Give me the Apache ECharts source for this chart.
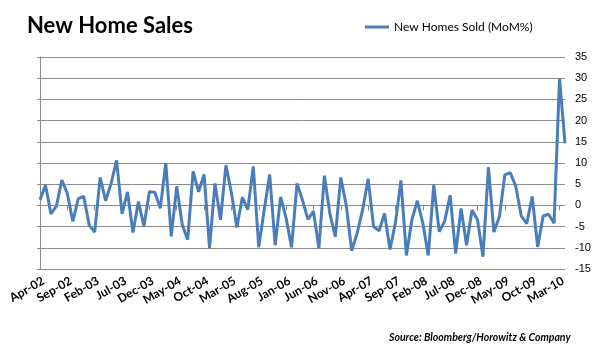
<!DOCTYPE html>
<html lang="en">
  <head>
    <meta charset="UTF-8" />
    <title>New Home Sales</title>
    <script src="https://cdnjs.cloudflare.com/ajax/libs/echarts/6.0.0/echarts.min.js"></script>
    <style>
      * {
        margin: 0;
        padding: 0;
      }
      body {
        background: #fff;
      }
      #chart {
        width: 603px;
        height: 352px;
      }
    </style>
  </head>
  <body>
    <div id="chart"></div>
    <script>
      // months, Apr-02 .. Apr-10
      const months = [
        "Apr-02", "May-02", "Jun-02", "Jul-02", "Aug-02", "Sep-02", "Oct-02", "Nov-02", "Dec-02",
        "Jan-03", "Feb-03", "Mar-03", "Apr-03", "May-03", "Jun-03", "Jul-03", "Aug-03", "Sep-03", "Oct-03", "Nov-03", "Dec-03",
        "Jan-04", "Feb-04", "Mar-04", "Apr-04", "May-04", "Jun-04", "Jul-04", "Aug-04", "Sep-04", "Oct-04", "Nov-04", "Dec-04",
        "Jan-05", "Feb-05", "Mar-05", "Apr-05", "May-05", "Jun-05", "Jul-05", "Aug-05", "Sep-05", "Oct-05", "Nov-05", "Dec-05",
        "Jan-06", "Feb-06", "Mar-06", "Apr-06", "May-06", "Jun-06", "Jul-06", "Aug-06", "Sep-06", "Oct-06", "Nov-06", "Dec-06",
        "Jan-07", "Feb-07", "Mar-07", "Apr-07", "May-07", "Jun-07", "Jul-07", "Aug-07", "Sep-07", "Oct-07", "Nov-07", "Dec-07",
        "Jan-08", "Feb-08", "Mar-08", "Apr-08", "May-08", "Jun-08", "Jul-08", "Aug-08", "Sep-08", "Oct-08", "Nov-08", "Dec-08",
        "Jan-09", "Feb-09", "Mar-09", "Apr-09", "May-09", "Jun-09", "Jul-09", "Aug-09", "Sep-09", "Oct-09", "Nov-09", "Dec-09",
        "Jan-10", "Feb-10", "Mar-10", "Apr-10",
      ];

      // new homes sold, month over month %
      const momChange = [
        1.3, 4.8, -2.0, -0.2, 6.0, 2.8, -3.8, 1.6, 2.1,
        -4.7, -6.3, 6.6, 1.1, 5.2, 10.6, -2.0, 3.2, -6.4, 0.9, -4.9, 3.2,
        3.1, -0.7, 10.0, -7.3, 4.5, -4.5, -8.1, 8.0, 3.2, 7.3, -10.0, 5.2,
        -3.4, 9.5, 3.0, -5.2, 1.9, -1.0, 9.2, -9.9, -1.0, 7.3, -9.4, 2.0,
        -3.0, -9.9, 5.2, 1.2, -3.3, -1.4, -10.1, 7.0, -1.9, -7.4, 6.6, 0.0,
        -10.7, -6.5, -1.0, 6.3, -5.0, -6.0, -1.9, -10.4, -4.0, 5.9, -11.8, -3.4,
        1.1, -4.2, -11.8, 4.8, -6.2, -3.7, 2.4, -11.3, -0.7, -9.4, -1.1, -3.4,
        -12.1, 9.0, -6.3, -2.7, 7.2, 7.7, 4.5, -2.5, -4.3, 2.1, -9.8, -2.5,
        -2.1, -4.2, 29.9, 14.6,
      ];

      const yTicks = [-15, -10, -5, 0, 5, 10, 15, 20, 25, 30, 35];

      const lineColor = "#4a7ebb";
      const gridColor = "#8c8c8c";
      const font = "Lato, 'Liberation Sans', sans-serif";

      const chart = echarts.init(document.getElementById("chart"));

      const option = {
        animation: false,
        title: [
          {
            text: "New Home Sales",
            left: 22,
            top: 10,
            textStyle: {
              fontFamily: font,
              fontWeight: "bold",
              fontSize: 22,
              color: "#000",
            },
          },
          {
            text: "Source: Bloomberg/Horowitz & Company",
            left: 384,
            top: 327,
            textStyle: {
              fontFamily: font,
              fontWeight: "bold",
              fontStyle: "italic",
              fontSize: 10.5,
              color: "#000",
            },
          },
        ],
        legend: {
          left: 360,
          top: 16,
          icon: "rect",
          itemWidth: 24,
          itemHeight: 3,
          textStyle: {
            fontFamily: font,
            fontSize: 12,
            color: "#000",
          },
        },
        grid: {
          left: 40,
          right: 38,
          top: 57,
          bottom: 83,
        },
        xAxis: [
          {
            // axis line sits on zero, ticks every 5 months
            type: "category",
            data: months,
            boundaryGap: false,
            position: "bottom",
            axisLine: { onZero: true, lineStyle: { color: gridColor } },
            axisTick: { interval: 4, length: 5, lineStyle: { color: gridColor } },
            axisLabel: { show: false },
            splitLine: { show: false },
          },
          {
            // labels along the bottom
            type: "category",
            data: months,
            boundaryGap: false,
            position: "bottom",
            axisLine: { show: false, onZero: false },
            axisTick: { show: false },
            axisLabel: {
              interval: 4,
              rotate: 30,
              margin: 13,
              padding: [0, -4, 0, 0],
              fontFamily: font,
              fontWeight: "bold",
              fontSize: 12,
              color: "#000",
            },
          },
        ],
        yAxis: [
          {
            type: "value",
            min: yTicks[0],
            max: yTicks[yTicks.length - 1],
            interval: 5,
            axisLine: { show: true, lineStyle: { color: gridColor } },
            axisTick: { show: true, length: 3, lineStyle: { color: gridColor } },
            axisLabel: { show: false },
            splitLine: { lineStyle: { color: gridColor } },
          },
          {
            type: "value",
            position: "right",
            min: yTicks[0],
            max: yTicks[yTicks.length - 1],
            interval: 5,
            axisLine: { show: false },
            axisTick: { show: false },
            splitLine: { show: false },
            axisLabel: {
              margin: 10,
              fontFamily: "'Liberation Sans', Arial, sans-serif",
              fontSize: 11,
              color: "#000",
            },
          },
        ],
        series: [
          {
            name: "New Homes Sold (MoM%)",
            type: "line",
            xAxisIndex: 0,
            yAxisIndex: 0,
            data: momChange,
            symbol: "none",
            lineStyle: { color: lineColor, width: 3 },
            itemStyle: { color: lineColor },
          },
        ],
      };

      chart.setOption(option);
    </script>
  </body>
</html>
